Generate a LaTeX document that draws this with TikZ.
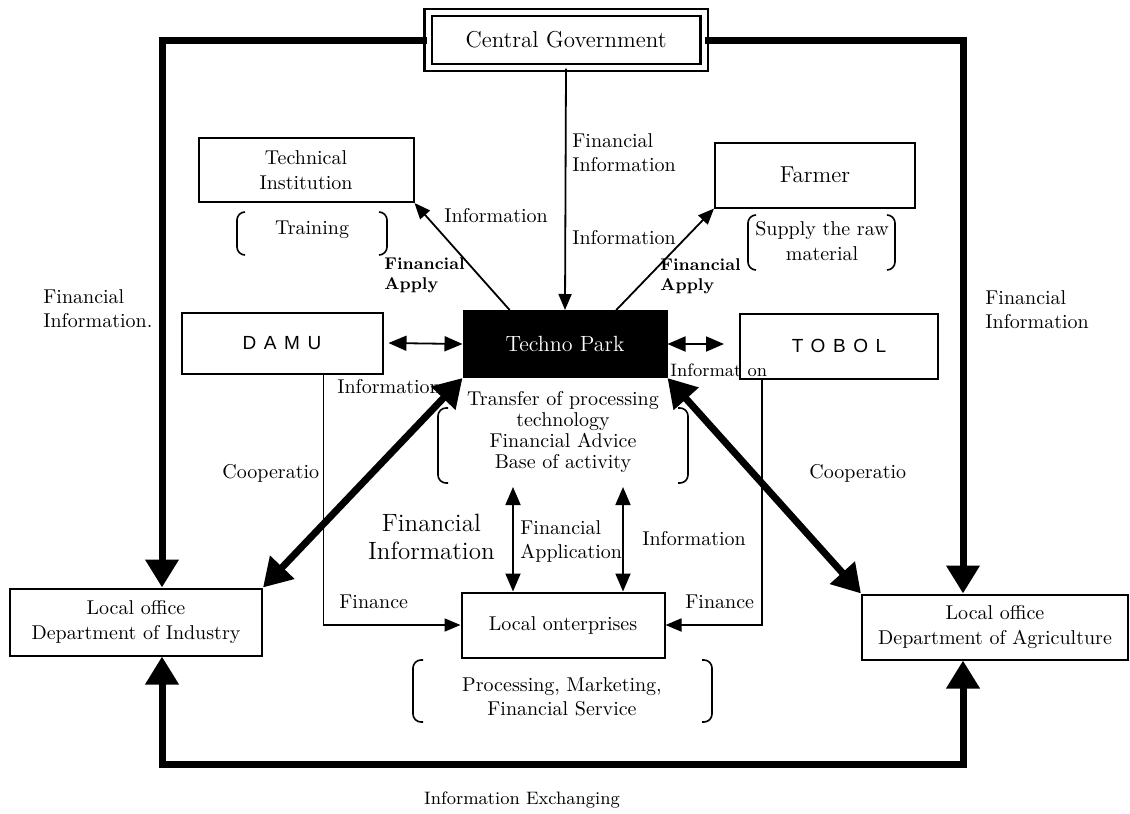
\documentclass[tikz,border=0pt]{standalone}
\usepackage{fontspec}
\newfontfamily\spacedsans[LetterSpace=40]{Liberation Sans}
\usepackage{tikz}
\usetikzlibrary{arrows.meta,calc,positioning}

\tikzset{
  box/.style={draw, line width=1pt, align=center, inner sep=2pt,
    font=\fontsize{10}{12.5}\selectfont},
  lbl/.style={align=left, inner sep=1pt, font=\fontsize{10}{12}\selectfont},
  small/.style={align=left, inner sep=1pt, font=\bfseries\fontsize{8.5}{10}\selectfont},
  conn/.style={line width=0.9pt, -{Triangle[length=8pt,width=6.5pt]}},
  dconn/.style={line width=0.9pt, {Triangle[length=9pt,width=7.5pt]}-{Triangle[length=9pt,width=7.5pt]}},
  rail/.style={line width=3.5pt, -{Triangle[length=14pt,width=16pt]}},
  drail/.style={line width=3.5pt, {Triangle[length=14pt,width=16pt]}-{Triangle[length=14pt,width=16pt]}},
  brk/.style={line width=0.8pt, rounded corners=4pt}
}

\begin{document}
\begin{tikzpicture}[x=0.5pt,y=-0.5pt]
    \useasboundingbox (0,0) rectangle (1130,814);

    % Boxes
    \node[box, line width=1.2pt, double, double distance=2.5pt, minimum width=138pt, minimum height=27.5pt,
      font=\fontsize{11.5}{13}\selectfont] (cgov) at (566,40) {Central Government};
    \node[box, minimum width=107.5pt, minimum height=32pt] (techinst) at (306,170) {Technical\\Institution};
    \node[box, minimum width=100pt, minimum height=32.5pt, font=\fontsize{11.5}{13}\selectfont] (farmer) at (815,175) {Farmer};
    \node[box, minimum width=100.5pt, minimum height=30.5pt, font=\spacedsans\fontsize{9.5}{11}\selectfont] (damu) at (282,343) {DAMU};
    \node[box, fill=black, text=white, minimum width=101.5pt, minimum height=33pt,
      font=\fontsize{11}{13}\selectfont] (techno) at (565,344) {Techno Park};
    \node[box, minimum width=99pt, minimum height=32.5pt, font=\spacedsans\fontsize{9.5}{11}\selectfont] (tobol) at (839,346) {TOBOL};
    \node[box, minimum width=126pt, minimum height=33.5pt] (industry) at (136,622) {Local office\\Department of Industry};
    \node[box, minimum width=133pt, minimum height=32.5pt] (agri) at (995,627) {Local office\\Department of Agriculture};
    \node[box, minimum width=101.5pt, minimum height=32.5pt] (localent) at (563,625) {Local onterprises};

    % Brackets
    \draw[brk] (245,212) -- (237,212) -- (237,255) -- (245,255);
    \draw[brk] (379,212) -- (387,212) -- (387,255) -- (379,255);
    \draw[brk] (756,215) -- (748,215) -- (748,270) -- (756,270);
    \draw[brk] (887,215) -- (895,215) -- (895,270) -- (887,270);
    \draw[brk] (448,408) -- (438,408) -- (438,483) -- (448,483);
    \draw[brk] (678,408) -- (688,408) -- (688,483) -- (678,483);
    \draw[brk] (423,660) -- (413,660) -- (413,722) -- (423,722);
    \draw[brk] (702,660) -- (712,660) -- (712,722) -- (702,722);

    % Bracket texts
    \node[lbl, align=center] (training) at (312,230) {Training};
    \node[lbl, align=center, font=\fontsize{10}{12.5}\selectfont] (supply) at (822,241) {Supply the raw\\material};
    \node[lbl, align=center, font=\fontsize{10}{10.5}\selectfont] (techtask) at (563,432) {Transfer of processing\\technology\\Financial Advice\\Base of activity};
    \node[lbl, align=center, font=\fontsize{10}{12}\selectfont] (enttask) at (562,697) {Processing, Marketing,\\Financial Service};

    % Labels
    \node[lbl, anchor=west] (finL) at (41,309) {Financial\\Information.};
    \node[lbl, anchor=west] (finR) at (983,310) {Financial\\Information};
    \node[lbl, anchor=west] (finC) at (570,153) {Financial\\Information};
    \node[lbl, anchor=west] (infoC) at (570,238) {Information};
    \node[lbl, anchor=west] (infoT) at (442,216) {Information};
    \node[small, anchor=west] (applyT) at (382,275) {Financial\\Apply};
    \node[small, anchor=west] (applyF) at (658,276) {Financial\\Apply};
    \node[lbl, anchor=west] (infoD) at (335,387) {Information};
    \node[lbl, anchor=west, font=\fontsize{9}{11}\selectfont] (infoB) at (668,370) {Informat on};
    \node[lbl, anchor=west] (coopL) at (220,473) {Cooperatio};
    \node[lbl, anchor=west] (coopR) at (807,473) {Cooperatio};
    \node[lbl, anchor=east, align=center, font=\fontsize{12.5}{14}\selectfont] (finBig) at (497,537) {Financial\\Information};
    \node[lbl, anchor=west] (finApp) at (518,541) {Financial\\Application};
    \node[lbl, anchor=west] (infoE) at (640,539) {Information};
    \node[lbl, anchor=west] (financeL) at (337,602) {Finance};
    \node[lbl, anchor=west] (financeR) at (683,602) {Finance};
    \node[lbl, font=\fontsize{9}{11}\selectfont] (exlabel) at (522,800) {Information Exchanging};

    % Outer frame
    \draw[rail] (cgov.west) -| ($(industry.north)+(26,0)$);
    \draw[rail] (cgov.east) -| ($(agri.north)+(-32,0)$);
    \coordinate (exch) at (560,764);
    \draw[drail] ($(industry.south)+(26,0)$) |- (exch) -| ($(agri.south)+(-32,0)$);

    % Connectors
    \draw[conn] (cgov.south) -- (techno.north);
    \draw[conn] ($(techno.north west)!0.23!(techno.north east)$) -- (techinst.south east);
    \draw[conn] ($(techno.north west)!0.75!(techno.north east)$) -- (farmer.south west);
    \draw[dconn] ([xshift=2.5pt]damu.east) -- (techno.west);
    \draw[dconn] (techno.east) -- ([xshift=-7.5pt]tobol.west |- techno.east);
    \draw[drail] (techno.south west) -- (industry.north east);
    \draw[drail] (techno.south east) -- (agri.north west);
    \draw[conn] ($(damu.south west)+(143,0)$) |- (localent.west);
    \draw[conn] ($(tobol.south west)+(23,0)$) |- (localent.east);
    \coordinate (fa) at (513,487);
    \coordinate (ia) at (623,487);
    \draw[dconn] (fa) -- (fa |- localent.north);
    \draw[dconn] (ia) -- (ia |- localent.north);
\end{tikzpicture}
\end{document}
